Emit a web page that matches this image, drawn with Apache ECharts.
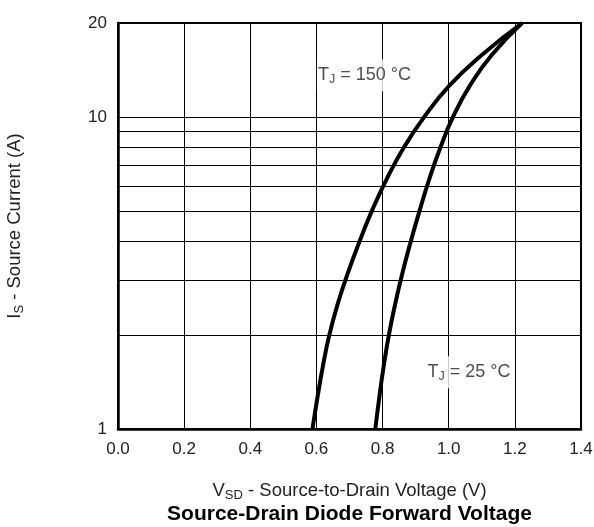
<!DOCTYPE html>
<html>
<head>
<meta charset="utf-8">
<script src="https://cdn.jsdelivr.net/npm/echarts@6/dist/echarts.min.js"></script>
<style>html,body{margin:0;padding:0;background:#fff;}#c{width:594px;height:527px;}</style>
</head>
<body>
<div id="c"></div>
<script>
// Source current (A) sample points, shared by both curves
var currentA = [1, 1.26, 1.58, 2, 2.51, 3.16, 3.98, 5.01, 6.31, 7.94, 10, 12.6, 15.8, 20];
// Source-to-drain voltage (V) at TJ = 150 °C
var vsd150 = [0.588, 0.603, 0.619, 0.639, 0.664, 0.695, 0.730, 0.768, 0.812, 0.863, 0.926, 1.002, 1.100, 1.222];
// Source-to-drain voltage (V) at TJ = 25 °C
var vsd25 = [0.778, 0.790, 0.803, 0.819, 0.838, 0.860, 0.885, 0.912, 0.941, 0.974, 1.013, 1.064, 1.130, 1.222];
// Axis ticks
var xTicks = [0, 0.2, 0.4, 0.6, 0.8, 1.0, 1.2, 1.4];
var yGridValues = [1, 2, 3, 4, 5, 6, 7, 8, 9, 10];
var yLabelValues = [1, 10, 20];
// Curve annotations: [V, I, temperature text]
var annoVsd = [0.745, 1.061];
var annoIs = [13.6, 1.52];
var annoTemp = ['150 °C', '25 °C'];

function pairs(xs, ys) { return xs.map(function (x, i) { return [x, ys[i]]; }); }

var FONT = '"Liberation Sans", Arial, Helvetica, sans-serif';
var chart = echarts.init(document.getElementById('c'), null, { renderer: 'canvas' });

var annoData = annoVsd.map(function (v, i) {
  return { value: [v, annoIs[i]], name: annoTemp[i] };
});

chart.setOption({
  animation: false,
  backgroundColor: '#fff',
  textStyle: { fontFamily: FONT },
  grid: { left: 118, right: 13, top: 23, bottom: 98, show: true, borderColor: '#000', borderWidth: 2, backgroundColor: 'transparent', containLabel: false, outerBoundsMode: 'none' },
  xAxis: {
    type: 'value', min: 0, max: 1.4, interval: 0.2,
    axisLine: { show: true, lineStyle: { color: '#000', width: 2.5 } },
    axisTick: { show: false },
    splitLine: { show: true, lineStyle: { color: '#000', width: 1 } },
    axisLabel: { color: '#222', fontSize: 17, fontFamily: FONT, margin: 12, formatter: function (v) { return v.toFixed(1); } },
    name: '{a|V}{s|SD}{a| - Source-to-Drain Voltage (V)}\n{t|Source-Drain Diode Forward Voltage}',
    nameLocation: 'middle', nameGap: 50,
    nameTextStyle: {
      rich: {
        a: { fontSize: 18.5, color: '#222', fontFamily: FONT, lineHeight: 24 },
        s: { fontSize: 13, color: '#222', fontFamily: FONT, lineHeight: 24, padding: [9, 0, 0, 0] },
        t: { fontSize: 21, fontWeight: 'bold', color: '#000', fontFamily: FONT, lineHeight: 23 }
      }
    }
  },
  yAxis: {
    type: 'log', logBase: 10, min: 1, max: 20,
    axisLine: { show: true, lineStyle: { color: '#000', width: 2.5 } },
    axisTick: { show: false, customValues: yGridValues },
    splitLine: { show: true, lineStyle: { color: '#000', width: 1 } },
    minorSplitLine: { show: false },
    axisLabel: { color: '#222', fontSize: 17, fontFamily: FONT, margin: 11, customValues: yLabelValues, formatter: function (v) { return String(Math.round(v)); } },
    name: '{a|I}{s|S}{a| - Source Current (A)}',
    nameLocation: 'middle', nameGap: 91, nameRotate: 90,
    nameTextStyle: {
      rich: {
        a: { fontSize: 18.5, color: '#222', fontFamily: FONT, lineHeight: 24 },
        s: { fontSize: 13, color: '#222', fontFamily: FONT, lineHeight: 24, padding: [9, 0, 0, 0] }
      }
    }
  },
  series: [
    {
      name: 'TJ = 150 °C', type: 'line', data: pairs(vsd150, currentA), smooth: 0.5,
      showSymbol: false, lineStyle: { color: '#000', width: 4 }, z: 3
    },
    {
      name: 'TJ = 25 °C', type: 'line', data: pairs(vsd25, currentA), smooth: 0.5,
      showSymbol: false, lineStyle: { color: '#000', width: 4 }, z: 3
    },
    {
      type: 'scatter', data: annoData, symbolSize: 2, itemStyle: { color: 'rgba(0,0,0,0)' }, z: 4, silent: true,
      label: {
        show: true, position: 'inside', backgroundColor: '#fff', padding: [5, 1, 5, 1],
        formatter: function (p) { return '{a|T}{s|J}{a| = ' + p.name + '}'; },
        rich: {
          a: { fontSize: 18, color: '#222', fontFamily: FONT, lineHeight: 22 },
          s: { fontSize: 12.5, color: '#222', fontFamily: FONT, lineHeight: 22, padding: [8, 0, 0, 0] }
        }
      }
    }
  ]
});
</script>
</body>
</html>
